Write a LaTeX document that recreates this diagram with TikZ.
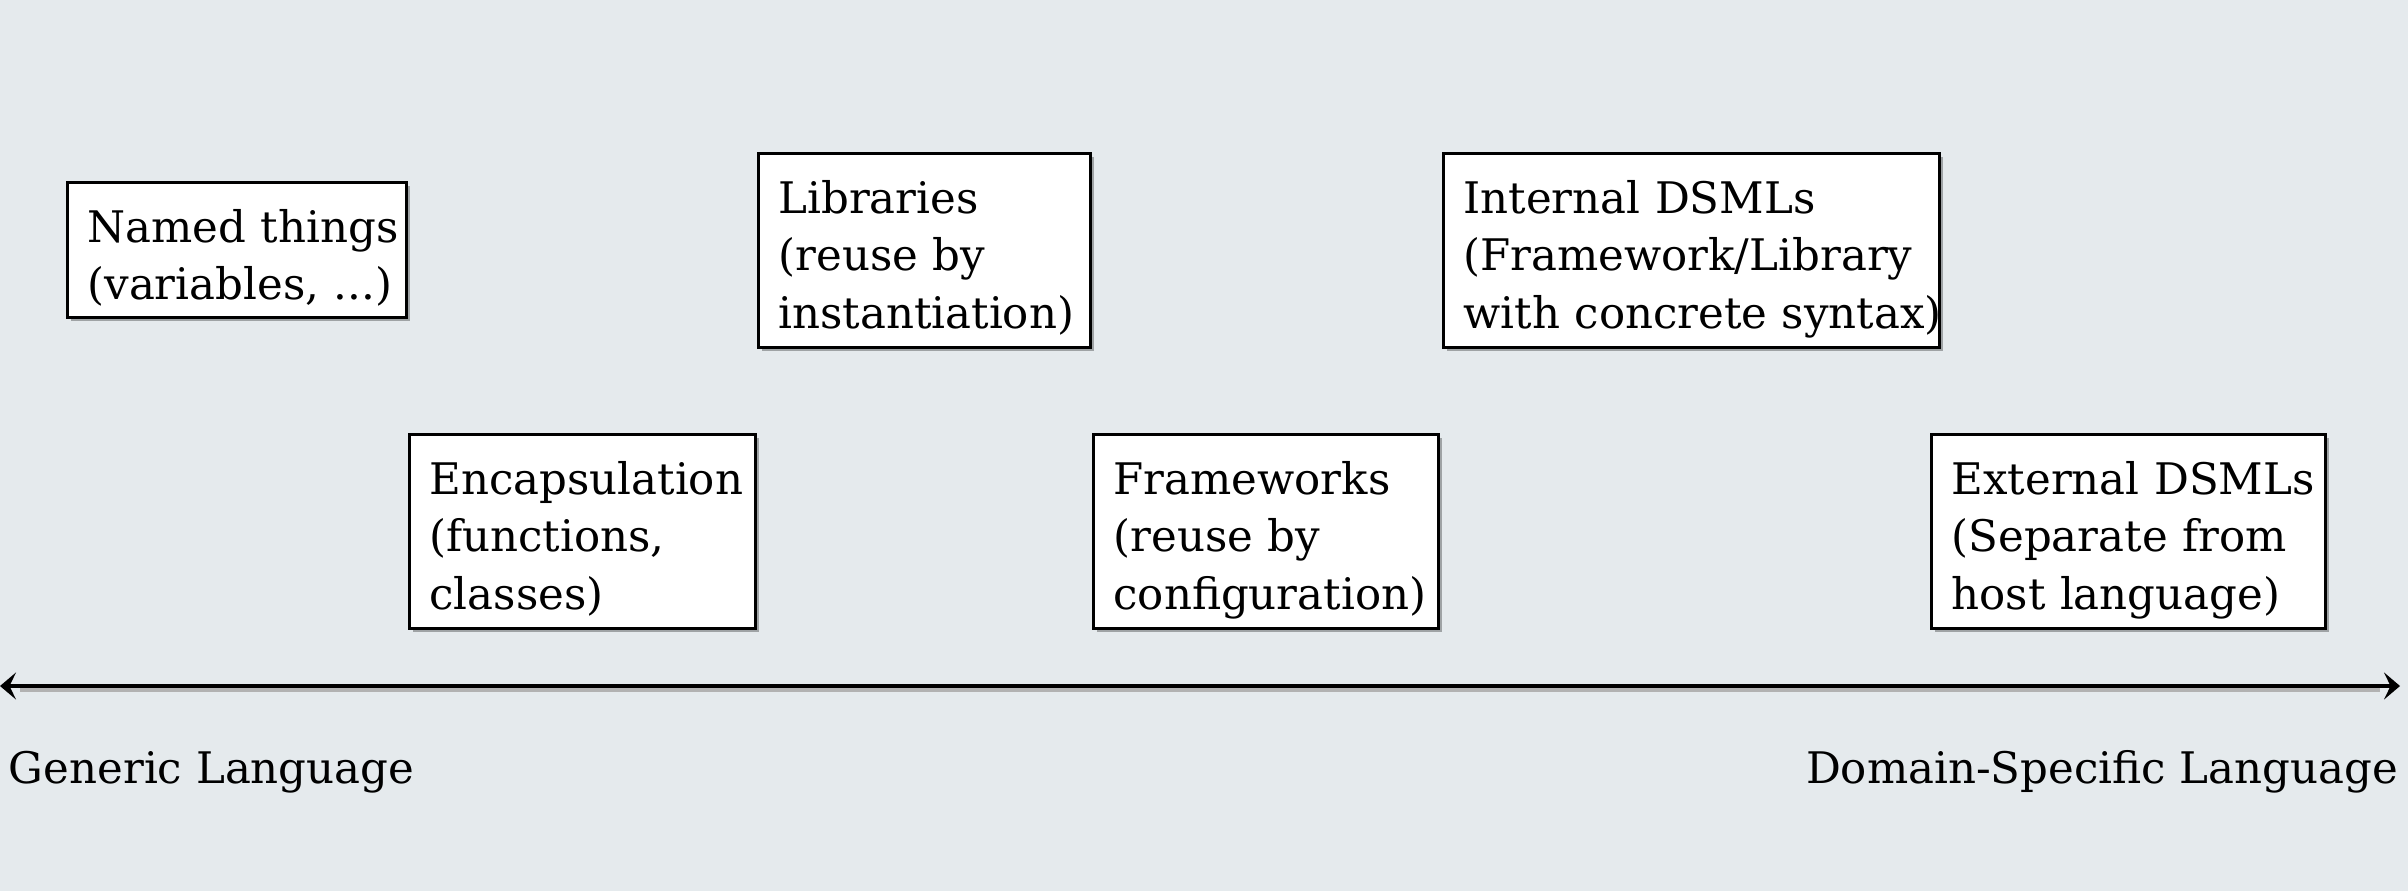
\documentclass[tikz,border=0pt]{standalone}
\usepackage{fontspec}
\setmainfont{DejaVu Serif}
\usetikzlibrary{arrows.meta,shadows}
\definecolor{bgcol}{HTML}{E5EAED}
\newcommand{\oneline}[1]{\mbox{#1}}
\begin{document}
\begin{tikzpicture}[x=0.2pt,y=-0.2pt,
  itembox/.style 2 args={draw, line width=0.6pt, fill=white, text width=#1, align=left,
    inner xsep=4pt, inner ysep=3pt, anchor=north west, text height=9pt, text depth=#2,
    font=\fontsize{8.7}{11.5}\selectfont,
    drop shadow={shadow xshift=0.6pt, shadow yshift=-0.7pt, fill=black, opacity=0.3}},
  axislabel/.style={font=\fontsize{8.7}{12}\selectfont, inner sep=0pt},
  axisline/.style={line width=0.65pt, {Stealth[length=3.2pt,width=5.4pt,inset=1.3pt]}-{Stealth[length=3.2pt,width=5.4pt,inset=1.3pt]}}
]
\fill[bgcol] (0,0) rectangle (2408,891);
\useasboundingbox (0,0) rectangle (2408,891);

\node[itembox={59.8pt}{12pt}] (named) at (66,181) {\oneline{Named things}\\\oneline{(variables, ...)}};
\node[itembox={61.2pt}{23.8pt}] (encap) at (408,433) {\oneline{Encapsulation}\\\oneline{(functions,}\\\oneline{classes)}};
\node[itembox={58.4pt}{23.8pt}] (libs) at (757,152) {\oneline{Libraries}\\\oneline{(reuse by}\\\oneline{instantiation)}};
\node[itembox={61pt}{23.8pt}] (frame) at (1092,433) {\oneline{Frameworks}\\\oneline{(reuse by}\\\oneline{configuration)}};
\node[itembox={91.2pt}{23.8pt}] (internal) at (1442,152) {\oneline{Internal DSMLs}\\\oneline{(Framework/Library}\\\oneline{with concrete syntax)}};
\node[itembox={70.8pt}{23.8pt}] (external) at (1930,433) {\oneline{External DSMLs}\\\oneline{(Separate from}\\\oneline{host language)}};

\coordinate (axL) at (0,686);
\coordinate (axR) at (2400,686);
\draw[black!30, line width=1pt] ([xshift=4pt,yshift=-0.6pt]axL) -- ([xshift=-4pt,yshift=-0.6pt]axR);
\draw[axisline] (axL) -- (axR);

\node[axislabel, anchor=base west] (generic) at (8,783) {Generic Language};
\node[axislabel, anchor=base east] (domain) at (2399,783) {Domain-Specific Language};
\end{tikzpicture}
\end{document}
